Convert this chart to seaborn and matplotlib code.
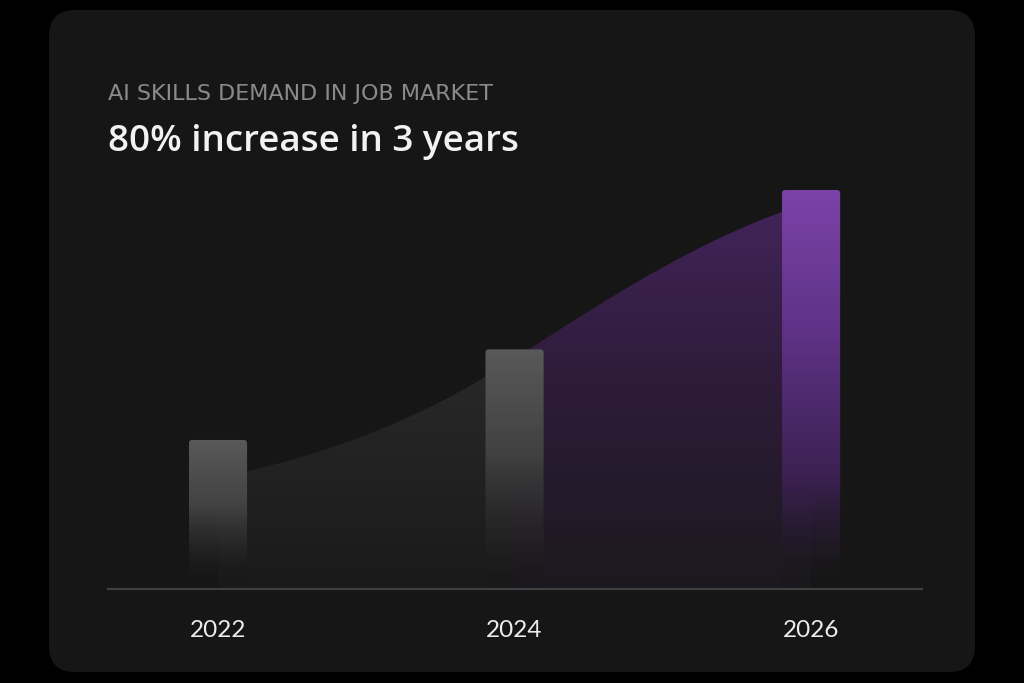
import numpy as np
import matplotlib
matplotlib.use('Agg')
import matplotlib.pyplot as plt
import seaborn as sns
from matplotlib.patches import FancyBboxPatch, PathPatch
from matplotlib.path import Path
from matplotlib.colors import to_rgb
from matplotlib.transforms import IdentityTransform

# Data
years = ['2022', '2024', '2026']
demand = [100, 129, 180]          # demand index, 2022 = 100
trend = [88, 126, 176]            # smooth curve drawn behind the bars
trend_slope = [19, 62, 28]        # slope of that curve at each year
subtitle = 'AI SKILLS DEMAND IN JOB MARKET'
title = '80% increase in 3 years'

W, H = 1024, 683
CARD = '#161616'
YBOT, YTOP = 52.3, 183.2


def gradient(stops, n=256):
    # vertical rgba strip, stops = [(pos 0=top..1=bottom, colour, alpha)]
    pos = [s[0] for s in stops]
    rgb = np.array([to_rgb(s[1]) for s in stops])
    alp = np.array([s[2] for s in stops])
    t = np.linspace(0, 1, n)
    arr = np.zeros((n, 1, 4))
    for c in range(3):
        arr[:, 0, c] = np.interp(t, pos, rgb[:, c])
    arr[:, 0, 3] = np.interp(t, pos, alp)
    return arr


sns.set_theme(style='dark')
plt.rcParams['font.family'] = ['Lato', 'DejaVu Sans']

fig = plt.figure(figsize=(W / 100, H / 100), dpi=100, facecolor='black')
card = FancyBboxPatch((49, H - 672), 975 - 49, 672 - 10,
                      boxstyle='round,pad=0,rounding_size=26',
                      transform=IdentityTransform(), facecolor=CARD,
                      edgecolor='none', zorder=0)
fig.add_artist(card)

ax = fig.add_axes([108 / W, 94 / H, 814 / W, 409 / H])
ax.set_facecolor('none')

sns.barplot(x=years, y=demand, width=0.196, color='#555555', ax=ax, zorder=3)
ax.set_xlim(-0.371, 2.374)
ax.set_ylim(YBOT, YTOP)

# Smooth area behind the bars, one piece per gap
fills = [
    [(0, '#292929', 1), (1, '#1a1a1a', 1)],
    [(0, '#43245a', 1), (0.45, '#2e1c3a', 1), (1, '#1c191e', 1)],
]
for i in range(len(years) - 1):
    verts = [(i, trend[i]),
             (i + 1 / 3, trend[i] + trend_slope[i] / 3),
             (i + 2 / 3, trend[i + 1] - trend_slope[i + 1] / 3),
             (i + 1, trend[i + 1]),
             (i + 1, YBOT), (i, YBOT), (i, trend[i])]
    codes = [Path.MOVETO, Path.CURVE4, Path.CURVE4, Path.CURVE4,
             Path.LINETO, Path.LINETO, Path.CLOSEPOLY]
    patch = PathPatch(Path(verts, codes), facecolor='none', edgecolor='none')
    ax.add_patch(patch)
    top = max(trend[i], trend[i + 1])
    im = ax.imshow(gradient(fills[i]), extent=(i, i + 1, YBOT, top),
                   aspect='auto', interpolation='bilinear', zorder=1)
    im.set_clip_path(patch)

# Bars with a fade towards the baseline, small rounded corners
bar_stops = [
    [(0, '#595959', 1), (0.45, '#424242', 1), (0.85, '#1d1d1d', 0.6), (1, CARD, 0)],
    [(0, '#595959', 1), (0.45, '#404040', 1), (0.88, '#1e1e1e', 0.6), (1, CARD, 0)],
    [(0, '#7b43a8', 1), (0.35, '#5f3287', 1), (0.72, '#3c2152', 1), (0.92, '#1e1922', 0.7), (1, CARD, 0)],
]
for p, stops, val in zip(list(ax.patches)[:len(years)], bar_stops, demand):
    x0, w = p.get_x(), p.get_width()
    p.set_facecolor('none')
    p.set_edgecolor('none')
    (px0, py0), (px1, py1) = ax.transData.transform([(x0, YBOT), (x0 + w, val)])
    clip = FancyBboxPatch((px0, py0), px1 - px0, py1 - py0,
                          boxstyle='round,pad=0,rounding_size=3',
                          transform=IdentityTransform(), facecolor='none',
                          edgecolor='none')
    im = ax.imshow(gradient(stops), extent=(x0, x0 + w, YBOT, val),
                   aspect='auto', interpolation='bilinear', zorder=3)
    im.set_clip_path(clip)

ax.grid(False)
ax.set_yticks([])
ax.set_xlabel('')
ax.set_ylabel('')
for s in ['top', 'left', 'right']:
    ax.spines[s].set_visible(False)
ax.spines['bottom'].set_color('#3f3f3f')
ax.spines['bottom'].set_linewidth(1.6)
ax.tick_params(axis='x', length=0, pad=22, labelsize=17.5, colors='#ededed')

fig.text(108 / W, 1 - 100 / H, subtitle, fontsize=16, color='#8a8a8a',
         va='baseline', ha='left', family=['DejaVu Sans'])
fig.text(108 / W, 1 - 151 / H, title, fontsize=26.5, color='#f2f2f2',
         va='baseline', ha='left', fontweight='semibold',
         family=['Open Sans', 'DejaVu Sans'])

fig.savefig('out.png', dpi=100, facecolor='black')
